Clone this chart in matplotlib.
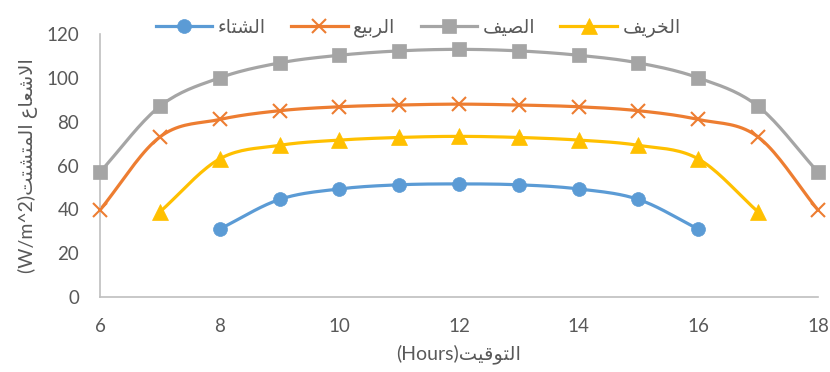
import numpy as np
import matplotlib
matplotlib.use('Agg')
import matplotlib.pyplot as plt

plt.rcParams['font.family'] = ['Lato', 'DejaVu Sans']

# ساعات النهار
hours_winter = [8, 9, 10, 11, 12, 13, 14, 15, 16]
hours_spring = [6, 7, 8, 9, 10, 11, 12, 13, 14, 15, 16, 17, 18]
hours_summer = [6, 7, 8, 9, 10, 11, 12, 13, 14, 15, 16, 17, 18]
hours_autumn = [7, 8, 9, 10, 11, 12, 13, 14, 15, 16, 17]

# الاشعاع المتشتت لكل فصل
winter = [31, 44.5, 49.3, 51.2, 51.6, 51.2, 49.3, 44.5, 31]
spring = [39.7, 73, 81, 85, 86.8, 87.6, 88, 87.6, 86.8, 85, 81, 73, 39.7]
summer = [57, 87, 100, 106.8, 110.3, 112.3, 113, 112.3, 110.3, 106.8, 100, 87, 57]
autumn = [38.8, 63, 69.2, 71.6, 72.8, 73.3, 72.8, 71.6, 69.2, 63, 38.8]

season_names = ['الشتاء', 'الربيع', 'الصيف', 'الخريف']
x_title = 'التوقيت'
y_title = 'الاشعاع المتشتت'

# اشكال الحروف العربية: (منفرد، نهائي، ابتدائي، وسطي)
FORMS = {
    'ا': ('\uFE8D', '\uFE8E'),
    'ب': ('\uFE8F', '\uFE90', '\uFE91', '\uFE92'),
    'ت': ('\uFE95', '\uFE96', '\uFE97', '\uFE98'),
    'ث': ('\uFE99', '\uFE9A', '\uFE9B', '\uFE9C'),
    'خ': ('\uFEA5', '\uFEA6', '\uFEA7', '\uFEA8'),
    'ر': ('\uFEAD', '\uFEAE'),
    'ش': ('\uFEB5', '\uFEB6', '\uFEB7', '\uFEB8'),
    'ص': ('\uFEB9', '\uFEBA', '\uFEBB', '\uFEBC'),
    'ع': ('\uFEC9', '\uFECA', '\uFECB', '\uFECC'),
    'ف': ('\uFED1', '\uFED2', '\uFED3', '\uFED4'),
    'ق': ('\uFED5', '\uFED6', '\uFED7', '\uFED8'),
    'ل': ('\uFEDD', '\uFEDE', '\uFEDF', '\uFEE0'),
    'م': ('\uFEE1', '\uFEE2', '\uFEE3', '\uFEE4'),
    'و': ('\uFEED', '\uFEEE'),
    'ي': ('\uFEF1', '\uFEF2', '\uFEF3', '\uFEF4'),
    'ء': ('\uFE80',),
    'لا': ('\uFEFB', '\uFEFC'),
}


def shape(word):
    # ربط الحروف ثم عكس الترتيب للعرض من اليسار لليمين
    units = []
    i = 0
    while i < len(word):
        if word[i] == 'ل' and i + 1 < len(word) and word[i + 1] == 'ا':
            units.append('لا')
            i += 2
        else:
            units.append(word[i])
            i += 1
    out = []
    for k, u in enumerate(units):
        f = FORMS.get(u)
        if f is None:
            out.append(u)
            continue
        prev = units[k - 1] if k > 0 else None
        nxt = units[k + 1] if k + 1 < len(units) else None
        join_prev = prev is not None and len(FORMS.get(prev, ())) == 4 and len(f) > 1
        join_next = nxt is not None and len(f) == 4 and len(FORMS.get(nxt, ())) > 1
        if join_prev and join_next:
            out.append(f[3])
        elif join_prev:
            out.append(f[1])
        elif join_next:
            out.append(f[2])
        else:
            out.append(f[0])
    return ''.join(out)[::-1]


def arabic(text):
    words = text.split(' ')
    return ' '.join(shape(w) for w in words[::-1])


def smooth(x, y, n=20):
    # منحنى ناعم يمر بالنقاط (Catmull-Rom)
    x = np.asarray(x, float)
    y = np.asarray(y, float)
    px = np.concatenate([[2 * x[0] - x[1]], x, [2 * x[-1] - x[-2]]])
    py = np.concatenate([[2 * y[0] - y[1]], y, [2 * y[-1] - y[-2]]])
    xs, ys = [], []
    t = np.linspace(0, 1, n)
    for i in range(1, len(px) - 2):
        for p, res in ((px, xs), (py, ys)):
            p0, p1, p2, p3 = p[i - 1], p[i], p[i + 1], p[i + 2]
            c = 0.5 * ((2 * p1) + (-p0 + p2) * t + (2 * p0 - 5 * p1 + 4 * p2 - p3) * t ** 2
                       + (-p0 + 3 * p1 - 3 * p2 + p3) * t ** 3)
            res.extend(c)
    return np.array(xs), np.array(ys)


fig = plt.figure(figsize=(8.3, 3.72), dpi=100)
ax = fig.add_axes([0.1205, 0.2016, 0.865, 0.707])

series = [
    (hours_winter, winter, '#5B9BD5', 'o', 10),
    (hours_spring, spring, '#ED7D31', 'x', 10),
    (hours_summer, summer, '#A5A5A5', 's', 10),
    (hours_autumn, autumn, '#FFC000', '^', 11),
]

handles = []
for (hx, hy, col, mk, ms), name in zip(series, season_names):
    sx, sy = smooth(hx, hy)
    ax.plot(sx, sy, color=col, lw=2.3, clip_on=False, solid_capstyle='round')
    ax.plot(hx, hy, linestyle='none', marker=mk, color=col, markersize=ms,
            markeredgewidth=1.5 if mk == 'x' else 0.5, clip_on=False, zorder=3)
    h, = ax.plot([], [], color=col, lw=2.3, marker=mk, markersize=ms,
                 markeredgewidth=1.5 if mk == 'x' else 0.5, label=arabic(name))
    handles.append(h)

ax.set_xlim(6, 18)
ax.set_ylim(0, 120)
ax.set_xticks(range(6, 19, 2))
ax.set_yticks(range(0, 121, 20))

for s in ('top', 'right'):
    ax.spines[s].set_visible(False)
for s in ('left', 'bottom'):
    ax.spines[s].set_color('#BFBFBF')
    ax.spines[s].set_linewidth(1.2)
ax.tick_params(length=0, labelsize=13.5, labelcolor='#595959')
ax.tick_params(axis='x', pad=15)
ax.tick_params(axis='y', pad=15)

ax.set_xlabel('(Hours)' + arabic(x_title), fontsize=14, color='#595959', labelpad=7)
ax.set_ylabel('(W/m^2)' + arabic(y_title), fontsize=14, color='#595959', labelpad=6)

fig.legend(handles=handles, loc='upper center', bbox_to_anchor=(0.504, 0.995), ncol=4,
           frameon=False, fontsize=13.5, labelcolor='#595959', handlelength=3.0,
           columnspacing=1.35, handletextpad=0.3)

fig.savefig('out.png', dpi=100)
